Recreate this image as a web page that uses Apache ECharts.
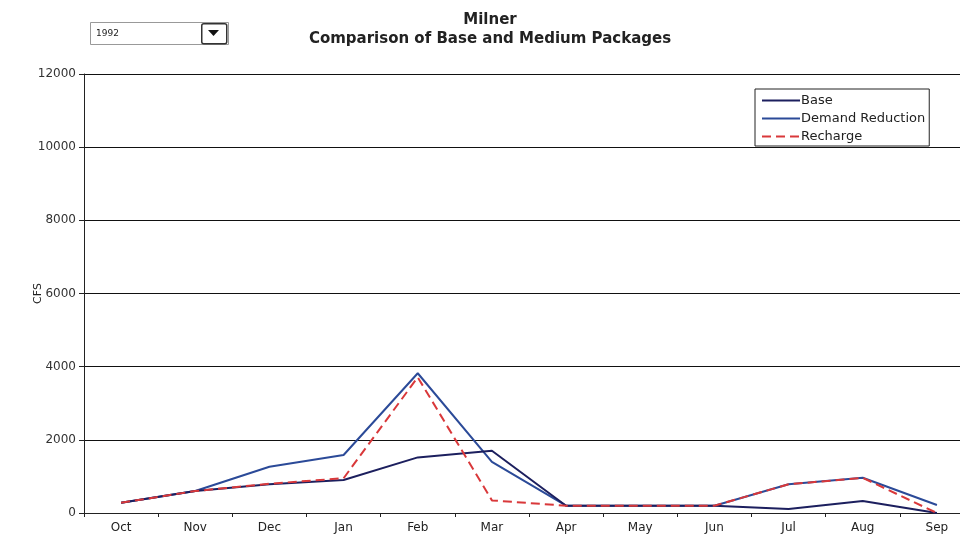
<!DOCTYPE html>
<html><head><meta charset="utf-8">
<script src="https://cdn.jsdelivr.net/npm/echarts@6/dist/echarts.min.js"></script>
<style>html,body{margin:0;padding:0;background:#fff;overflow:hidden;width:960px;height:539px}#c{width:974px;height:539px}</style>
</head><body><div id="c"></div>
<script>
const months = ['Oct','Nov','Dec','Jan','Feb','Mar','Apr','May','Jun','Jul','Aug','Sep'];
const base = [280, 600, 785, 900, 1520, 1700, 200, 200, 200, 110, 330, 0];
const demandReduction = [280, 600, 1265, 1585, 3820, 1400, 200, 200, 200, 785, 965, 220];
const recharge = [280, 600, 800, 950, 3710, 345, 200, 200, 200, 785, 960, 0];
const yTicks = [0, 2000, 4000, 6000, 8000, 10000, 12000];

const chart = echarts.init(document.getElementById('c'));
const font = 'DejaVu Sans, Arial, sans-serif';
chart.setOption({
  animation: false,
  backgroundColor: '#fff',
  title: {
    text: 'Milner\nComparison of Base and Medium Packages',
    left: 485, top: 6, textAlign: 'center',
    textStyle: {fontFamily: font, fontSize: 15, fontWeight: 'bold', color: '#222', lineHeight: 19}
  },
  legend: {
    orient: 'vertical', left: 755, top: 89, padding: [5, 4, 3, 6],
    itemWidth: 38, itemHeight: 10, itemGap: 5,
    borderColor: '#222', borderWidth: 1,
    itemStyle: {opacity: 0},
    textStyle: {fontFamily: font, fontSize: 13, color: '#222', padding: [0,0,0,-4]},
    data: ['Base', 'Demand Reduction', 'Recharge']
  },
  grid: {left: 84, right: 0, top: 74, bottom: 26, containLabel: false},
  xAxis: {
    type: 'category', data: months, boundaryGap: true,
    axisLine: {lineStyle: {color: '#222', width: 1}},
    axisTick: {show: true, length: 4, lineStyle: {color: '#222'}},
    axisLabel: {fontFamily: font, fontSize: 12, color: '#222', margin: 9}
  },
  yAxis: {
    type: 'value', min: yTicks[0], max: yTicks[yTicks.length-1], interval: 2000,
    name: 'CFS', nameLocation: 'middle', nameGap: 40, nameRotate: 90, nameMoveOverlap: false,
    nameTextStyle: {fontFamily: font, fontSize: 11, color: '#222'},
    axisLine: {show: true, lineStyle: {color: '#222', width: 1}},
    axisTick: {show: true, length: 5, lineStyle: {color: '#222'}},
    axisLabel: {fontFamily: font, fontSize: 12, color: '#333', margin: 8,
                formatter: v => String(v)},
    splitLine: {show: true, lineStyle: {color: '#111', width: 1}}
  },
  series: [
    {name: 'Base', type: 'line', data: base, symbol: 'none', z: 3,
     lineStyle: {color: '#1c1f5e', width: 2}, itemStyle: {color: '#1c1f5e'}},
    {name: 'Demand Reduction', type: 'line', data: demandReduction, symbol: 'none', z: 2,
     lineStyle: {color: '#2b4a98', width: 2}, itemStyle: {color: '#2b4a98'}},
    {name: 'Recharge', type: 'line', data: recharge, symbol: 'none', z: 4,
     lineStyle: {color: '#d9383a', width: 2, type: [9, 5]}, itemStyle: {color: '#d9383a'}}
  ],
  graphic: [
    {type: 'rect', left: 90, top: 22, shape: {width: 138, height: 22},
     style: {fill: '#fff', stroke: '#999', lineWidth: 1}},
    {type: 'text', left: 96, top: 29, style: {text: '1992', font: '9px ' + font, fill: '#222'}},
    {type: 'rect', left: 201, top: 23, shape: {width: 25, height: 20, r: 2},
     style: {fill: '#fff', stroke: '#333', lineWidth: 1.5}},
    {type: 'polygon', shape: {points: [[208, 30], [219, 30], [213.5, 36]]},
     style: {fill: '#111'}}
  ]
});
</script></body></html>
